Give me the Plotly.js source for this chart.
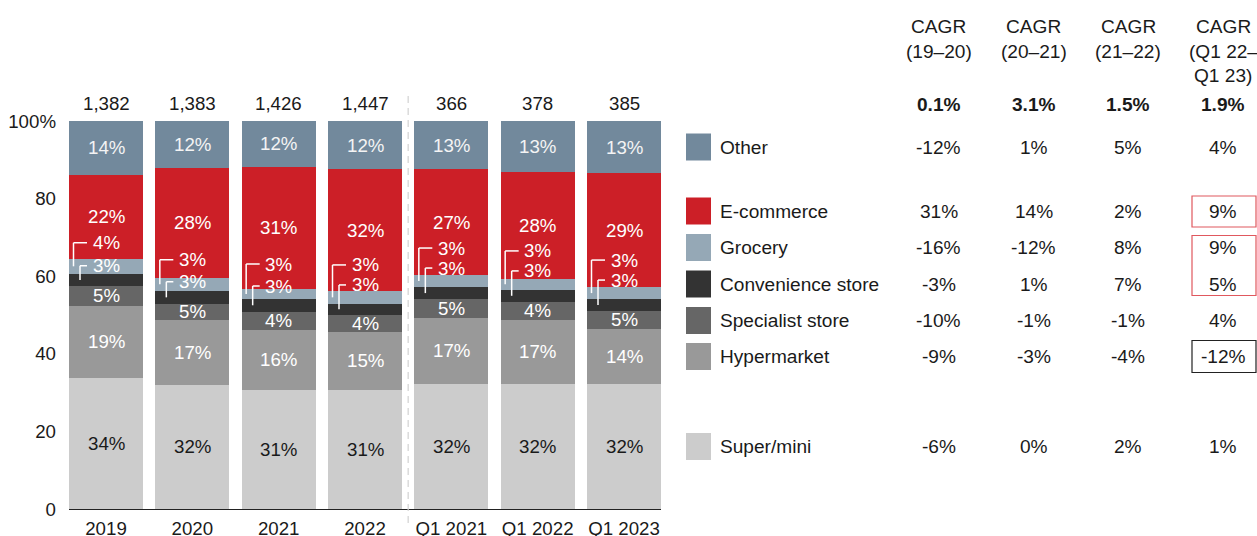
<!DOCTYPE html>
<html>
<head>
<meta charset="utf-8">
<script src="https://cdn.plot.ly/plotly-3.0.1.min.js"></script>
<style>html,body{margin:0;padding:0;background:#fff;}#chart{width:1257px;height:536px;}</style>
</head>
<body>
<div id="chart"></div>
<script>
// ---------- DATA ----------
const categories = ["2019", "2020", "2021", "2022", "Q1 2021", "Q1 2022", "Q1 2023"];
const totals = [1382, 1383, 1426, 1447, 366, 378, 385];

// shares (%), bottom to top
const superMini   = [33.8, 32.0, 30.7, 30.7, 32.3, 32.3, 32.3];
const hypermarket = [18.6, 16.8, 15.5, 14.9, 17.0, 16.5, 14.2];
const specialist  = [5.1, 4.1, 4.7, 4.4, 4.8, 4.6, 4.6];
const convenience = [3.1, 3.3, 3.2, 2.9, 3.1, 3.1, 3.0];
const grocery     = [3.9, 3.4, 2.6, 3.3, 3.1, 2.8, 3.1];
const ecommerce   = [21.6, 28.3, 31.5, 31.4, 27.3, 27.6, 29.4];
const other       = [13.9, 12.1, 11.8, 12.4, 12.4, 13.1, 13.4];

// printed labels (%)
const superLbl = [34, 32, 31, 31, 32, 32, 32];
const hyperLbl = [19, 17, 16, 15, 17, 17, 14];
const specLbl  = [5, 5, 4, 4, 5, 4, 5];
const convLbl  = [3, 3, 3, 3, 3, 3, 3];
const grocLbl  = [4, 3, 3, 3, 3, 3, 3];
const ecomLbl  = [22, 28, 31, 32, 27, 28, 29];
const otherLbl = [14, 12, 12, 12, 13, 13, 13];

// CAGR table
const cagrHeaders = [["CAGR", "(19–20)"], ["CAGR", "(20–21)"], ["CAGR", "(21–22)"], ["CAGR", "(Q1 22–", "Q1 23)"]];
const cagrTotal = ["0.1%", "3.1%", "1.5%", "1.9%"];
const segNames = ["Other", "E-commerce", "Grocery", "Convenience store", "Specialist store", "Hypermarket", "Super/mini"];
const cagrOther       = [-12, 1, 5, 4];
const cagrEcommerce   = [31, 14, 2, 9];
const cagrGrocery     = [-16, -12, 8, 9];
const cagrConvenience = [-3, 1, 7, 5];
const cagrSpecialist  = [-10, -1, -1, 4];
const cagrHypermarket = [-9, -3, -4, -12];
const cagrSuperMini   = [-6, 0, 2, 1];

// ---------- STYLE / LAYOUT ----------
const FONT = "Liberation Sans, Arial, Helvetica, sans-serif";
const FS = 18.7;
const FST = 19.1;
const TXT = "#1a1a1a";
const colors = {
  "Super/mini": "#cccccc",
  "Hypermarket": "#999999",
  "Specialist store": "#666666",
  "Convenience store": "#333333",
  "Grocery": "#95a8b6",
  "E-commerce": "#cc1f27",
  "Other": "#72899c"
};
// placement of the leader-line labels, in pixels relative to the grocery top edge
const leaderLowerPx = [7, 4, -3, -6, -7, -8, -7];
const leaderGapPx   = [23, 22, 22, 20, 20, 20, 20];

// layout geometry (pixels)
const W = 1257, H = 536;
const ML = 69, MR = W - 661, MT = 121, MB = 27;
const PW = W - ML - MR, PH = H - MT - MB;
const px2x = p => (p - ML) / PW;
const py2y = p => (H - MB - p) / PH;
const pxPerUnit = PH / 100;

const stack = [
  ["Super/mini", superMini],
  ["Hypermarket", hypermarket],
  ["Specialist store", specialist],
  ["Convenience store", convenience],
  ["Grocery", grocery],
  ["E-commerce", ecommerce],
  ["Other", other]
];

const traces = stack.map(([name, vals]) => ({
  type: "bar",
  name: name,
  x: categories,
  y: vals,
  marker: {color: colors[name], line: {width: 0}},
  textposition: "none",
  hoverinfo: "skip",
  showlegend: false
}));

// cumulative bases
const bases = {};
{
  let run = categories.map(() => 0);
  stack.forEach(([name, vals]) => {
    bases[name] = run.slice();
    run = run.map((r, i) => r + vals[i]);
  });
}

const annotations = [];
const shapes = [];

function segLabel(name, vals, lbls, color) {
  categories.forEach((c, i) => {
    annotations.push({
      x: i, y: bases[name][i] + vals[i] / 2, xref: "x", yref: "y",
      text: lbls[i] + "%", showarrow: false,
      font: {family: FONT, size: FS, color: color},
      xanchor: "center", yanchor: "middle"
    });
  });
}
segLabel("Super/mini", superMini, superLbl, "#1a1a1a");
segLabel("Hypermarket", hypermarket, hyperLbl, "#ffffff");
segLabel("Specialist store", specialist, specLbl, "#ffffff");
segLabel("E-commerce", ecommerce, ecomLbl, "#ffffff");
segLabel("Other", other, otherLbl, "#f4f4f4");

// small labels with leader lines (grocery, convenience)
categories.forEach((c, i) => {
  const gTop = bases["Grocery"][i] + grocery[i];
  const gMid = bases["Grocery"][i] + grocery[i] / 2;
  const cMid = bases["Convenience store"][i] + convenience[i] / 2;
  const y2 = gTop - leaderLowerPx[i] / pxPerUnit;
  const y1 = y2 + leaderGapPx[i] / pxPerUnit;
  [[grocLbl[i], y1], [convLbl[i], y2]].forEach(([t, yy]) => {
    annotations.push({
      x: i, y: yy, xref: "x", yref: "y", text: t + "%", showarrow: false,
      font: {family: FONT, size: FS, color: "#ffffff"}, xanchor: "center", yanchor: "middle",
      borderpad: 0
    });
  });
  const ln = {color: "#ffffff", width: 1.5};
  const L = -37;
  shapes.push({type: "line", xref: "x", yref: "y", xsizemode: "pixel", xanchor: i,
    x0: L + 4.5, x1: L + 4.5, y0: gMid, y1: y1, line: ln});
  shapes.push({type: "line", xref: "x", yref: "y", xsizemode: "pixel", xanchor: i,
    x0: L + 4.5, x1: L + 18, y0: y1, y1: y1, line: ln});
  shapes.push({type: "line", xref: "x", yref: "y", xsizemode: "pixel", xanchor: i,
    x0: L + 11, x1: L + 11, y0: cMid, y1: y2, line: ln});
  shapes.push({type: "line", xref: "x", yref: "y", xsizemode: "pixel", xanchor: i,
    x0: L + 11, x1: L + 18, y0: y2, y1: y2, line: ln});
});

// totals above bars
categories.forEach((c, i) => {
  annotations.push({
    x: i, y: 100, xref: "x", yref: "y", text: totals[i].toLocaleString("en-US"),
    showarrow: false, font: {family: FONT, size: FS, color: TXT},
    xanchor: "center", yanchor: "middle", yshift: 18
  });
});

// separator between annual and quarterly
shapes.push({type: "line", xref: "x", yref: "paper", x0: 3.5, x1: 3.5, y0: py2y(523), y1: py2y(95),
  line: {color: "#d2d2d2", width: 1.2, dash: "7px,5px"}});

// ---------- RIGHT TABLE ----------
const colX = [938.5, 1033.5, 1128, 1223];
const headerY = [26.7, 51.7, 76];
const totalRowY = 105;
const rowY = [147, 211, 247.5, 284, 320.5, 356.5, 446.5];
const cagrRows = [cagrOther, cagrEcommerce, cagrGrocery, cagrConvenience, cagrSpecialist, cagrHypermarket, cagrSuperMini];

function paperText(xpx, ypx, text, opts) {
  annotations.push(Object.assign({
    x: px2x(xpx), y: py2y(ypx), xref: "paper", yref: "paper", text: text, showarrow: false,
    font: {family: FONT, size: FST, color: TXT}, xanchor: "center", yanchor: "middle"
  }, opts || {}));
}

cagrHeaders.forEach((lines, j) => {
  lines.forEach((ln, k) => paperText(colX[j], headerY[k], ln));
});
cagrTotal.forEach((t, j) => paperText(colX[j], totalRowY, "<b>" + t + "</b>"));

segNames.forEach((name, r) => {
  const yc = rowY[r];
  shapes.push({type: "rect", xref: "paper", yref: "paper",
    x0: px2x(686), x1: px2x(711), y0: py2y(yc + 13.5), y1: py2y(yc - 13.5),
    fillcolor: colors[name], line: {width: 0}});
  paperText(718, yc, name, {xanchor: "left"});
  cagrRows[r].forEach((v, j) => paperText(colX[j], yc, v + "%"));
});

// highlight boxes in last column
const boxX0 = px2x(1192), boxX1 = px2x(1256);
shapes.push({type: "rect", xref: "paper", yref: "paper", x0: boxX0, x1: boxX1, y0: py2y(227), y1: py2y(196),
  line: {color: "#e0585e", width: 1.2}, fillcolor: "rgba(0,0,0,0)"});
shapes.push({type: "rect", xref: "paper", yref: "paper", x0: boxX0, x1: boxX1, y0: py2y(295.5), y1: py2y(235.5),
  line: {color: "#e0585e", width: 1.2}, fillcolor: "rgba(0,0,0,0)"});
shapes.push({type: "rect", xref: "paper", yref: "paper", x0: boxX0, x1: boxX1, y0: py2y(372.5), y1: py2y(340.5),
  line: {color: "#222222", width: 1.2}, fillcolor: "rgba(0,0,0,0)"});

const barFrac = 74 / 86.33;
const layout = {
  width: W, height: H,
  margin: {l: ML, r: MR, t: MT, b: MB, pad: 0},
  barmode: "stack",
  bargap: 1 - barFrac,
  paper_bgcolor: "#ffffff",
  plot_bgcolor: "#ffffff",
  showlegend: false,
  font: {family: FONT, size: FS, color: TXT},
  xaxis: {
    type: "category",
    range: [-barFrac / 2, categories.length - 1 + barFrac / 2],
    showgrid: false, zeroline: false,
    showline: true, linecolor: "#222222", linewidth: 1.3,
    ticks: "", ticklabelstandoff: 2,
    tickfont: {family: FONT, size: FS, color: TXT},
    fixedrange: true
  },
  yaxis: {
    range: [0, 100],
    showgrid: false, zeroline: false, showline: false,
    tickvals: [0, 20, 40, 60, 80, 100],
    ticktext: ["0", "20", "40", "60", "80", "100%"],
    ticks: "", ticklabelstandoff: 12,
    tickfont: {family: FONT, size: FS, color: TXT},
    fixedrange: true
  },
  annotations: annotations,
  shapes: shapes
};

Plotly.newPlot("chart", traces, layout, {displayModeBar: false, staticPlot: true});
</script>
</body>
</html>
